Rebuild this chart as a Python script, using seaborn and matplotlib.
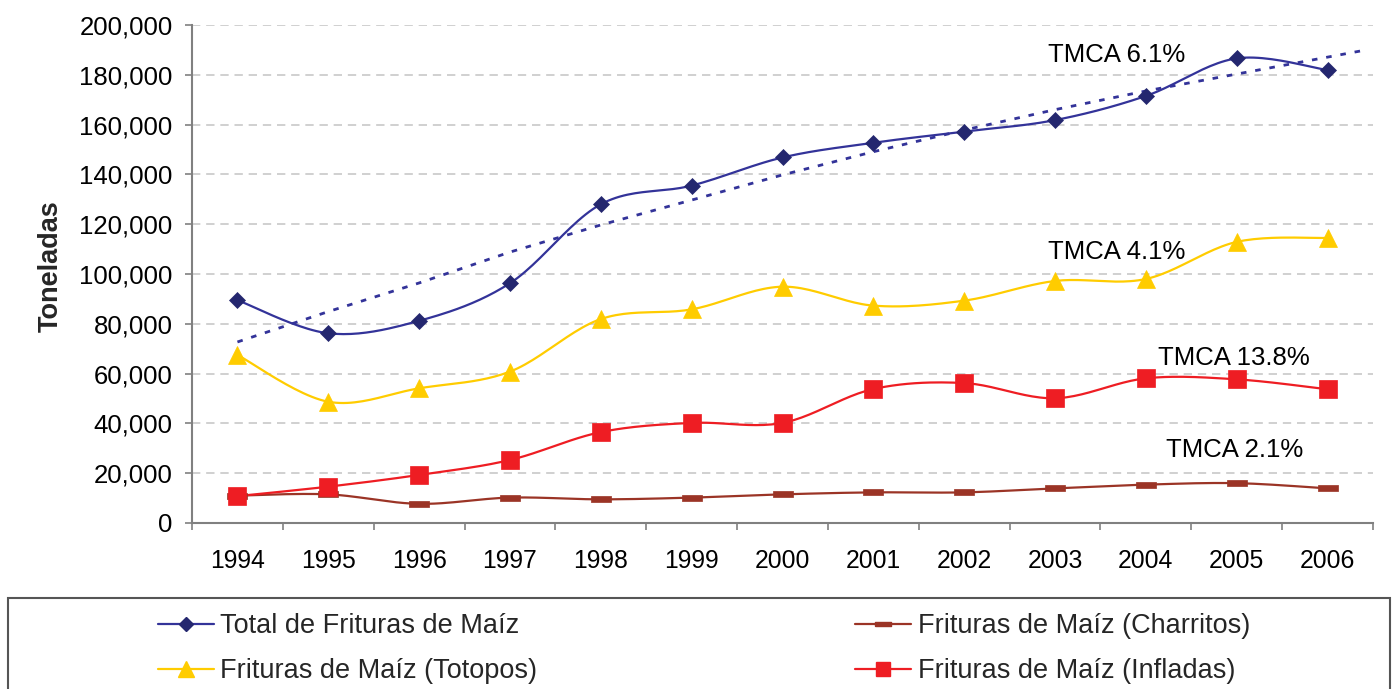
import numpy as np
import pandas as pd
import matplotlib
matplotlib.use("Agg")
import matplotlib.pyplot as plt
from matplotlib.lines import Line2D
from matplotlib.patches import Rectangle
from matplotlib.ticker import FuncFormatter, FixedLocator
import seaborn as sns

# ---------------- data ----------------
years = ["1994", "1995", "1996", "1997", "1998", "1999", "2000",
         "2001", "2002", "2003", "2004", "2005", "2006"]
total = [89500, 76200, 81200, 96300, 128000, 135500, 146800,
         152700, 157200, 161800, 171500, 186600, 181900]
totopos = [67500, 48700, 54100, 60800, 81900, 85800, 94900,
           87300, 89300, 97200, 98000, 112900, 114500]
infladas = [10800, 14600, 19300, 25300, 36500, 40200, 40200,
            53800, 56200, 50100, 58100, 57700, 53700]
charritos = [11000, 11500, 7700, 10200, 9500, 10200, 11500,
             12300, 12300, 13900, 15400, 16000, 13900]
trend_total = [72700, 84900, 96400, 108800, 119700, 129700, 139800,
               149100, 157800, 166000, 173500, 180300, 187100]
series_names = ["Total de Frituras de Maíz", "Frituras de Maíz (Totopos)",
                "Frituras de Maíz (Charritos)", "Frituras de Maíz (Infladas)"]
tmca_labels = ["TMCA 6.1%", "TMCA 4.1%", "TMCA 13.8%", "TMCA 2.1%"]
y_label = "Toneladas"

# ---------------- style ----------------
sns.set_theme(style="white")
plt.rcParams["font.family"] = ["Liberation Sans", "DejaVu Sans"]

C_TOTAL = "#333399"
C_TOTAL_M = "#24276F"
C_TOTOPOS = "#FFCC00"
C_INFL = "#EE1D23"
C_CHARR = "#9B3426"
C_AXIS = "#808080"

W, H, DPI = 1393, 689, 100
fig = plt.figure(figsize=(W / DPI, H / DPI), dpi=DPI)
ax = fig.add_axes([192 / W, 1 - 523 / H, (1373 - 192) / W, (523 - 25) / H])

xi = np.arange(len(years))


def smooth(x, y, n=24):
    """Excel-like smoothed line (Catmull-Rom) through the data points."""
    x = np.asarray(x, float)
    y = np.asarray(y, float)
    px = np.concatenate([[x[0]], x, [x[-1]]])
    py = np.concatenate([[y[0]], y, [y[-1]]])
    xs, ys = [], []
    for i in range(1, len(px) - 2):
        t = np.linspace(0, 1, n, endpoint=(i == len(px) - 3))
        for arr, out in ((px, xs), (py, ys)):
            p0, p1, p2, p3 = arr[i - 1], arr[i], arr[i + 1], arr[i + 2]
            m1 = (p2 - p0) / 2.0
            m2 = (p3 - p1) / 2.0
            h00 = 2 * t**3 - 3 * t**2 + 1
            h10 = t**3 - 2 * t**2 + t
            h01 = -2 * t**3 + 3 * t**2
            h11 = t**3 - t**2
            out.extend(h00 * p1 + h10 * m1 + h01 * p2 + h11 * m2)
    return np.array(xs), np.array(ys)


dash_marker = [(-1, -0.26), (1, -0.26), (1, 0.26), (-1, 0.26), (-1, -0.26)]

specs = [
    (total, C_TOTAL, C_TOTAL_M, "D", 8.5, 1.6),
    (totopos, C_TOTOPOS, C_TOTOPOS, "^", 13.5, 1.6),
    (charritos, C_CHARR, C_CHARR, dash_marker, 14, 1.6),
    (infladas, C_INFL, C_INFL, "s", 12.5, 1.6),
]

# trend line (Excel-style trend, dotted, forecast forward a bit)
forward = 0.4
tx = list(xi) + [xi[-1] + forward]
ty = list(trend_total) + [trend_total[-1] + forward * (trend_total[-1] - trend_total[-2])]
sns.lineplot(x=tx, y=ty, ax=ax, color=C_TOTAL, lw=2.0,
             linestyle=(0, (2.0, 3.2)), sort=False, zorder=2)

order = [2, 3, 1, 0]  # draw order (charritos bottom)
for k in order:
    vals, lc, mc, mk, ms, lw = specs[k]
    sx, sy = smooth(xi, vals)
    sns.lineplot(x=sx, y=sy, ax=ax, color=lc, lw=lw, sort=False, zorder=3 + k * 0.1)
    ax.plot(xi, vals, linestyle="none", marker=mk, markersize=ms,
            markerfacecolor=mc, markeredgecolor=mc, markeredgewidth=0.5,
            zorder=4 + k * 0.1)

# ---------------- axes ----------------
ax.set_xlim(-0.5, len(years) - 0.5)
ax.set_ylim(0, 200000)
ax.yaxis.set_major_locator(FixedLocator(np.arange(0, 200001, 20000)))
ax.yaxis.set_major_formatter(FuncFormatter(lambda v, p: f"{v:,.0f}"))
ax.xaxis.set_major_locator(FixedLocator(np.arange(-0.5, len(years), 1.0)))
ax.xaxis.set_minor_locator(FixedLocator(xi))
ax.set_xticklabels([], minor=False)
ax.set_xticklabels(years, minor=True)
ax.tick_params(axis="x", which="major", direction="out", length=5, width=1.2,
               color=C_AXIS, bottom=True)
ax.tick_params(axis="x", which="minor", length=0, labelsize=17.8, pad=18.5,
               labelcolor="black")
ax.tick_params(axis="y", direction="out", length=5, width=1.2, color=C_AXIS,
               labelsize=18.5, pad=9, labelcolor="black", left=True)

for s in ["top", "right"]:
    ax.spines[s].set_visible(False)
for s in ["left", "bottom"]:
    ax.spines[s].set_color(C_AXIS)
    ax.spines[s].set_linewidth(1.5)

ax.yaxis.grid(True, linestyle=(0, (5, 3.5)), color="#C8C8C8", lw=1.2)
ax.xaxis.grid(False)
ax.set_axisbelow(True)

ax.set_ylabel(y_label, fontsize=19.5, fontweight="bold")
ax.yaxis.set_label_coords(-0.1084, 0.516)
ax.set_xlabel("")

# TMCA annotations
tmca_pos = [(8.92, 187900), (8.92, 109000), (10.13, 66300), (10.22, 29300)]
for lab, (x, y) in zip(tmca_labels, tmca_pos):
    ax.text(x, y, lab, fontsize=18.5, ha="left", va="center", color="black")

# ---------------- legend ----------------
frame = Rectangle((8 / W, -0.1), (1390 - 8) / W, 0.1 + (689 - 598) / H,
                  transform=fig.transFigure, fill=False, edgecolor="#555555",
                  lw=1.5, clip_on=False)
fig.add_artist(frame)

handles = []
for k in range(4):
    vals, lc, mc, mk, ms, lw = specs[k]
    handles.append(Line2D([], [], color=lc, lw=lw, marker=mk, markersize=ms * 0.85,
                          markerfacecolor=mc, markeredgecolor=mc))
leg = fig.legend(handles, series_names, ncol=2, loc="upper left",
                 bbox_to_anchor=(158 / W, 1 - 613 / H - 0.001, (1250 - 158) / W, 0.001),
                 mode="expand", frameon=False, fontsize=19.5, borderpad=0,
                 borderaxespad=0, handlelength=2.05, handletextpad=0.25,
                 labelspacing=0.72)

fig.savefig("out.png", dpi=DPI, facecolor="white")
